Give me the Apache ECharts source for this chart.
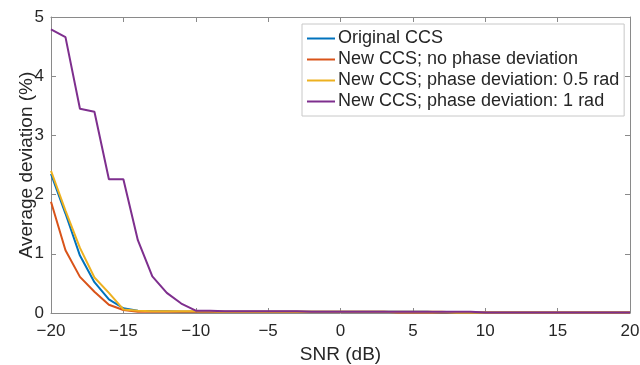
<!DOCTYPE html>
<html>
<head>
<meta charset="utf-8">
<script src="https://cdn.jsdelivr.net/npm/echarts@6/dist/echarts.min.js"></script>
<style>
  html, body { margin: 0; padding: 0; background: #fff; }
  #chart { width: 640px; height: 365px; }
</style>
</head>
<body>
<div id="chart"></div>
<script>
// SNR sweep, -20 dB to 20 dB in 1 dB steps
const snr = [];
for (let s = -20; s <= 20; s++) snr.push(s);

// Average deviation (%) per SNR step
const originalCCS = [2.35, 1.68, 0.97, 0.52, 0.23, 0.08, 0.04, 0.03, 0.03, 0.02, 0.02,
  0.02, 0.02, 0.02, 0.02, 0.02, 0.02, 0.02, 0.02, 0.02, 0.02,
  0.02, 0.02, 0.02, 0.02, 0.02, 0.02, 0.01, 0.01, 0.01, 0.01,
  0.01, 0.01, 0.01, 0.01, 0.01, 0.01, 0.01, 0.01, 0.01, 0.01];
const newNoPhase = [1.88, 1.06, 0.61, 0.36, 0.14, 0.05, 0.02, 0.02, 0.02, 0.02, 0.02,
  0.02, 0.02, 0.02, 0.02, 0.02, 0.02, 0.02, 0.02, 0.02, 0.02,
  0.02, 0.02, 0.02, 0.01, 0.01, 0.01, 0.01, 0.01, 0.01, 0.01,
  0.01, 0.01, 0.01, 0.01, 0.01, 0.01, 0.01, 0.01, 0.01, 0.01];
const newPhase05 = [2.40, 1.73, 1.10, 0.60, 0.34, 0.06, 0.04, 0.03, 0.03, 0.03, 0.03,
  0.03, 0.02, 0.02, 0.02, 0.02, 0.02, 0.02, 0.02, 0.02, 0.02,
  0.02, 0.02, 0.02, 0.02, 0.02, 0.02, 0.02, 0.01, 0.01, 0.01,
  0.01, 0.01, 0.01, 0.01, 0.01, 0.01, 0.01, 0.01, 0.01, 0.01];
const newPhase1 = [4.79, 4.66, 3.45, 3.40, 2.26, 2.26, 1.23, 0.62, 0.34, 0.16, 0.04,
  0.04, 0.03, 0.03, 0.03, 0.03, 0.03, 0.03, 0.02, 0.02, 0.02,
  0.02, 0.02, 0.02, 0.02, 0.02, 0.02, 0.02, 0.02, 0.02, 0.01,
  0.01, 0.01, 0.01, 0.01, 0.01, 0.01, 0.01, 0.01, 0.01, 0.01];

const seriesNames = [
  'Original CCS',
  'New CCS; no phase deviation',
  'New CCS; phase deviation: 0.5 rad',
  'New CCS; phase deviation: 1 rad'
];
const seriesValues = [originalCCS, newNoPhase, newPhase05, newPhase1];
const seriesColors = ['#0072BD', '#D95319', '#EDB120', '#7E2F8E'];

const FONT = 'Liberation Sans, Arial, Helvetica, sans-serif';
const TEXT = '#262626';
const AXIS = '#8a8a8a';

const minus = v => String(v).replace('-', '\u2212');

const chart = echarts.init(document.getElementById('chart'), null, { renderer: 'canvas' });

const baseAxis = {
  axisLine: { show: true, onZero: false, lineStyle: { color: AXIS, width: 1 } },
  axisTick: { show: true, inside: true, length: 5, lineStyle: { color: AXIS } },
  splitLine: { show: false },
};

chart.setOption({
  animation: false,
  backgroundColor: '#fff',
  grid: { left: 51, right: 10, top: 17, bottom: 52, containLabel: false, outerBoundsMode: 'none' },
  xAxis: [
    Object.assign({}, baseAxis, {
      type: 'value', min: -20, max: 20, interval: 5, position: 'bottom',
      name: 'SNR (dB)', nameLocation: 'middle', nameGap: 32, nameMoveOverlap: false,
      nameTextStyle: { fontFamily: FONT, fontSize: 19, color: TEXT },
      axisLabel: { fontFamily: FONT, fontSize: 17, color: TEXT, margin: 10, formatter: minus }
    }),
    Object.assign({}, baseAxis, {
      type: 'value', min: -20, max: 20, interval: 5, position: 'top',
      axisLabel: { show: false }
    })
  ],
  yAxis: [
    Object.assign({}, baseAxis, {
      type: 'value', min: 0, max: 5, interval: 1, position: 'left',
      name: 'Average deviation (%)', nameLocation: 'middle', nameGap: 15, nameMoveOverlap: false,
      nameTextStyle: { fontFamily: FONT, fontSize: 19, color: TEXT },
      axisLabel: { fontFamily: FONT, fontSize: 17, color: TEXT, margin: 7 }
    }),
    Object.assign({}, baseAxis, {
      type: 'value', min: 0, max: 5, interval: 1, position: 'right',
      axisLabel: { show: false }
    })
  ],
  legend: {
    orient: 'vertical',
    left: 302, top: 24,
    padding: [4, 5, 4, 5],
    itemGap: 0,
    itemWidth: 28, itemHeight: 2,
    icon: 'rect',
    backgroundColor: '#fff',
    borderColor: '#c8c8c8', borderWidth: 1,
    textStyle: { fontFamily: FONT, fontSize: 18, lineHeight: 21, color: TEXT, padding: [0, 0, 0, -2] },
    data: seriesNames
  },
  series: seriesNames.map((name, i) => ({
    name,
    type: 'line',
    xAxisIndex: 0, yAxisIndex: 0,
    data: snr.map((s, k) => [s, seriesValues[i][k]]),
    showSymbol: false,
    symbol: 'none',
    color: seriesColors[i],
    lineStyle: { width: 2, color: seriesColors[i] },
    z: 2 + i
  }))
});
</script>
</body>
</html>
